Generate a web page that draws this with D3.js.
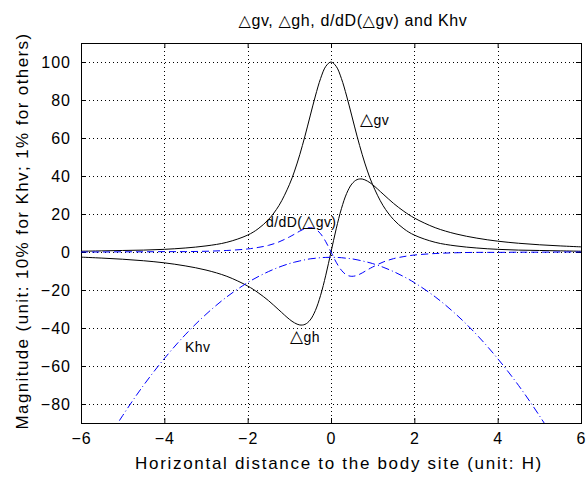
<!DOCTYPE html>
<html>
<head>
<meta charset="utf-8">
<script src="https://cdn.jsdelivr.net/npm/d3@7"></script>
<style>
  body { margin: 0; background: #fff; }
  svg { display: block; }
  text { font-family: "Liberation Sans", Arial, "DejaVu Sans", sans-serif; fill: #000; }
</style>
</head>
<body>
<div id="chart"></div>
<script>
// horizontal distance (unit: H), shared by all four curves
const xs = [-6, -5.5, -5, -4.5, -4, -3.5, -3, -2.5, -2, -1.75, -1.5, -1.25, -1, -0.875, -0.75, -0.625, -0.5, -0.375, -0.25, -0.125,
  0, 0.125, 0.25, 0.375, 0.5, 0.625, 0.75, 0.875, 1, 1.25, 1.5, 1.75, 2, 2.5, 3, 3.5, 4, 4.5, 5, 5.5, 6];

// values
const gvVals = [0.4, 0.6, 0.8, 1.0, 1.4, 2.1, 3.2, 5.1, 8.9, 12.2, 17.1, 24.4, 35.4, 42.6, 51.2, 61.0, 71.6, 82.1, 91.3, 97.7,
  100, 97.7, 91.3, 82.1, 71.6, 61.0, 51.2, 42.6, 35.4, 24.4, 17.1, 12.2, 8.9, 5.1, 3.2, 2.1, 1.4, 1.0, 0.8, 0.6, 0.4];
const ghVals = [-2.7, -3.2, -3.8, -4.6, -5.7, -7.3, -9.5, -12.8, -17.9, -21.4, -25.6, -30.5, -35.4, -37.3, -38.4, -38.1, -35.8, -30.8, -22.8, -12.2,
  0, 12.2, 22.8, 30.8, 35.8, 38.1, 38.4, 37.3, 35.4, 30.5, 25.6, 21.4, 17.9, 12.8, 9.5, 7.3, 5.7, 4.6, 3.8, 3.2, 2.7];
const dgvVals = [0.0, 0.0, 0.1, 0.1, 0.2, 0.2, 0.4, 0.8, 1.6, 2.4, 3.5, 5.3, 7.9, 9.4, 11.0, 12.3, 12.8, 12.1, 9.6, 5.4,
  0, -5.4, -9.6, -12.1, -12.8, -12.3, -11.0, -9.4, -7.9, -5.3, -3.5, -2.4, -1.6, -0.8, -0.4, -0.2, -0.2, -0.1, -0.1, 0.0, 0.0];
const khvVals = [-122.7, -103.5, -86.1, -70.2, -56.1, -43.6, -32.8, -23.6, -16.1, -13.0, -10.3, -8.0, -6.1, -5.35, -4.7, -4.1, -3.6, -3.3, -3.0, -2.85,
  -2.8, -2.85, -3.0, -3.3, -3.6, -4.1, -4.7, -5.35, -6.1, -8.0, -10.3, -13.0, -16.1, -23.6, -32.8, -43.6, -56.1, -70.2, -86.1, -103.5, -122.7];

const xTicks = [-6, -4, -2, 0, 2, 4, 6];
const yTicks = [-80, -60, -40, -20, 0, 20, 40, 60, 80, 100];

const width = 586, height = 477;
const margin = { top: 43, right: 5, bottom: 54, left: 81 };
const iw = width - margin.left - margin.right;
const ih = height - margin.top - margin.bottom;

const svg = d3.select("#chart").append("svg")
  .attr("width", width)
  .attr("height", height);

const g = svg.append("g")
  .attr("transform", `translate(${margin.left},${margin.top})`);

const x = d3.scaleLinear().domain([-6, 6]).range([0, iw]);
const y = d3.scaleLinear().domain([-90, 110]).range([ih, 0]);

g.append("clipPath").attr("id", "plot-clip")
  .append("rect").attr("width", iw).attr("height", ih);

// dotted grid
const grid = g.append("g").attr("class", "grid")
  .attr("stroke", "#000")
  .attr("stroke-width", 1)
  .attr("stroke-dasharray", "1,3");
grid.selectAll(".vx").data(xTicks.slice(1, -1)).enter().append("line")
  .attr("x1", d => Math.round(x(d)) + 0.5).attr("x2", d => Math.round(x(d)) + 0.5)
  .attr("y1", 0).attr("y2", ih);
grid.selectAll(".hy").data(yTicks).enter().append("line")
  .attr("y1", d => Math.round(y(d)) + 0.5).attr("y2", d => Math.round(y(d)) + 0.5)
  .attr("x1", 0).attr("x2", iw);

// axes with inward ticks
const xAxis = d3.axisBottom(x).tickValues(xTicks).tickSize(-5).tickPadding(10).tickFormat(d3.format("d"));
const yAxis = d3.axisLeft(y).tickValues(yTicks).tickSize(-5).tickPadding(10).tickFormat(d3.format("d"));

g.append("g").attr("transform", `translate(0,${ih})`).call(xAxis)
  .call(a => a.select(".domain").remove());
g.append("g").call(yAxis)
  .call(a => a.select(".domain").remove());
g.append("g").call(d3.axisTop(x).tickValues(xTicks).tickSize(-5).tickFormat(""))
  .call(a => a.select(".domain").remove());
g.append("g").attr("transform", `translate(${iw},0)`)
  .call(d3.axisRight(y).tickValues(yTicks).tickSize(-5).tickFormat(""))
  .call(a => a.select(".domain").remove());

g.selectAll(".tick text")
  .style("font-size", "16px")
  .style("letter-spacing", "1px")
  .attr("fill", "#000");
g.selectAll(".tick line").attr("stroke", "#000");

g.append("rect")
  .attr("x", 0.5).attr("y", 0.5)
  .attr("width", iw).attr("height", ih)
  .attr("fill", "none").attr("stroke", "#000").attr("stroke-width", 1);

// curves
const line = vals => d3.line()
  .x((d, i) => x(xs[i]))
  .y(d => y(d))
  .curve(d3.curveCatmullRom)(vals);

const plot = g.append("g").attr("clip-path", "url(#plot-clip)");
plot.append("path").attr("d", line(gvVals))
  .attr("fill", "none").attr("stroke", "#000").attr("stroke-width", 1);
plot.append("path").attr("d", line(ghVals))
  .attr("fill", "none").attr("stroke", "#000").attr("stroke-width", 1);
plot.append("path").attr("d", line(dgvVals))
  .attr("fill", "none").attr("stroke", "#0000ff").attr("stroke-width", 1)
  .attr("stroke-dasharray", "7,4");
plot.append("path").attr("d", line(khvVals))
  .attr("fill", "none").attr("stroke", "#0000ff").attr("stroke-width", 1)
  .attr("stroke-dasharray", "8,3,1,3");

// curve labels: triangle drawn a bit larger than the letters
const labels = [
  { pre: "", tri: "△", post: "gv", px: 279, py: 82 },
  { pre: "d/dD(", tri: "△", post: "gv)", px: 185, py: 184 },
  { pre: "", tri: "△", post: "gh", px: 209, py: 299 },
  { pre: "Khv", tri: "", post: "", px: 104, py: 309 }
];
const lbl = g.selectAll(".lbl").data(labels).enter().append("text")
  .attr("class", "lbl")
  .attr("x", d => d.px).attr("y", d => d.py)
  .style("font-size", "14px")
  .style("letter-spacing", "0.4px");
lbl.append("tspan").text(d => d.pre);
lbl.append("tspan").style("font-size", "17px").text(d => d.tri);
lbl.append("tspan").text(d => d.post);

// title and axis labels
svg.append("text")
  .attr("x", 353).attr("y", 26)
  .attr("text-anchor", "middle")
  .style("font-size", "16px").style("letter-spacing", "0.6px")
  .text("△gv, △gh, d/dD(△gv) and Khv");

svg.append("text")
  .attr("x", margin.left + iw / 2 + 8).attr("y", 469)
  .attr("text-anchor", "middle")
  .style("font-size", "17px").style("letter-spacing", "1.7px")
  .text("Horizontal distance to the body site (unit: H)");

svg.append("text")
  .attr("transform", `translate(28,${margin.top + ih / 2 - 2}) rotate(-90)`)
  .attr("text-anchor", "middle")
  .style("font-size", "17px").style("letter-spacing", "1.4px")
  .text("Magnitude (unit: 10% for Khv; 1% for others)");
</script>
</body>
</html>
